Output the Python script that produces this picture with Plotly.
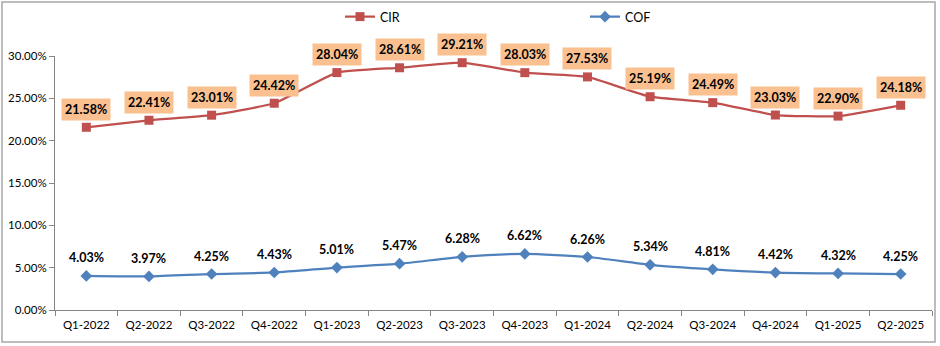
import plotly.graph_objects as go

quarters = ["Q1-2022", "Q2-2022", "Q3-2022", "Q4-2022", "Q1-2023", "Q2-2023", "Q3-2023",
            "Q4-2023", "Q1-2024", "Q2-2024", "Q3-2024", "Q4-2024", "Q1-2025", "Q2-2025"]
cir = [0.2158, 0.2241, 0.2301, 0.2442, 0.2804, 0.2861, 0.2921,
       0.2803, 0.2753, 0.2519, 0.2449, 0.2303, 0.2290, 0.2418]
cof = [0.0403, 0.0397, 0.0425, 0.0443, 0.0501, 0.0547, 0.0628,
       0.0662, 0.0626, 0.0534, 0.0481, 0.0442, 0.0432, 0.0425]

FONT = "Lato, Carlito, 'Liberation Sans', sans-serif"
RED = "#C0504D"
BLUE = "#4F81BD"

fig = go.Figure()
fig.add_trace(go.Scatter(x=quarters, y=cir, name="CIR", mode="lines+markers",
                         line=dict(color=RED, width=2.25, shape="spline", smoothing=0.4),
                         marker=dict(symbol="square", size=9, color=RED)))
fig.add_trace(go.Scatter(x=quarters, y=cof, name="COF", mode="lines+markers",
                         line=dict(color=BLUE, width=2.25, shape="spline", smoothing=0.6),
                         marker=dict(symbol="diamond", size=9, color=BLUE)))

annotations = []
for q, v in zip(quarters, cir):
    annotations.append(dict(x=q, y=v, text=f"<b>{v*100:.2f}%</b>", showarrow=False,
                            yshift=18, bgcolor="#FAC090", borderpad=3,
                            font=dict(family=FONT, size=12.5, color="#000000")))
for q, v in zip(quarters, cof):
    annotations.append(dict(x=q, y=v, text=f"<b>{v*100:.2f}%</b>", showarrow=False,
                            yshift=18, font=dict(family=FONT, size=12.5, color="#000000")))

L, R, T, B = 55, 8, 56, 36
pw = 940 - L - R
ph = 346 - T - B

fig.update_layout(
    width=940, height=346,
    margin=dict(l=L, r=R, t=T, b=B, autoexpand=False),
    paper_bgcolor="white", plot_bgcolor="white",
    font=dict(family=FONT, size=11, color="#000000"),
    showlegend=True,
    legend=dict(orientation="h", x=(340 - L) / pw, xanchor="left",
                y=(346 - B - 17) / ph, yanchor="middle",
                entrywidth=200, entrywidthmode="pixels",
                font=dict(family=FONT, size=12.5, color="#000000"),
                bgcolor="rgba(0,0,0,0)", tracegroupgap=0),
    xaxis=dict(range=[-0.5, len(quarters) - 0.5], autorange=False, automargin=False,
               showgrid=False, showline=True, linecolor="#868686", linewidth=1,
               ticks="outside", tickson="boundaries", ticklen=5, tickcolor="#868686",
               ticklabelstandoff=4,
               tickfont=dict(family=FONT, size=11.5, color="#000000"), zeroline=False),
    yaxis=dict(range=[0, 0.30], autorange=False, automargin=False,
               tickvals=[0, 0.05, 0.10, 0.15, 0.20, 0.25, 0.30],
               tickformat=".2%", showgrid=False, showline=True, linecolor="#868686",
               linewidth=1, ticks="outside", ticklen=5, tickcolor="#868686",
               tickfont=dict(family=FONT, size=11.5, color="#000000"), zeroline=False),
    annotations=annotations,
    shapes=[dict(type="rect", xref="paper", yref="paper", layer="below",
                 x0=(2 - L) / pw, x1=(935 - L) / pw,
                 y0=(346 - B - 342) / ph, y1=(346 - B - 2) / ph,
                 line=dict(color="#A6A6A6", width=1.5), fillcolor="rgba(0,0,0,0)")],
)

fig.write_html("out.html")
